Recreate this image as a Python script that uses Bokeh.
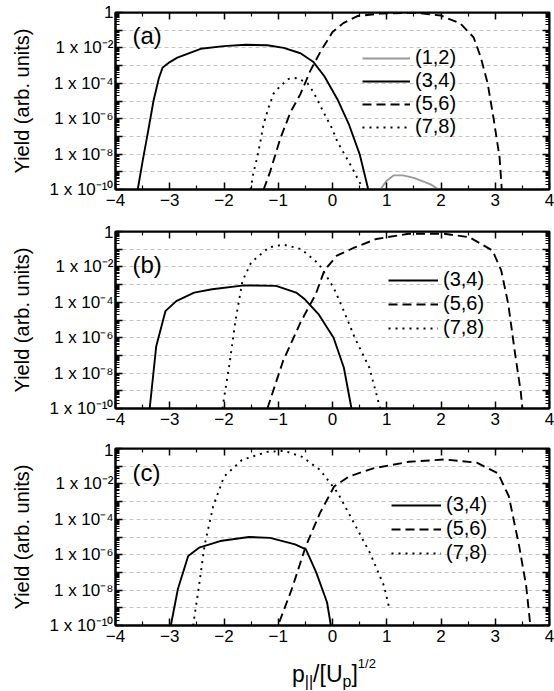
from bokeh.plotting import figure
from bokeh.models import (FixedTicker, LogAxis, LinearAxis, Legend, LegendItem, Label,
                          CustomJSTickFormatter, Div)
from bokeh.layouts import column
from bokeh.embed import file_html
from bokeh.resources import INLINE

FONT = "Liberation Sans"

# ---------------- data ----------------
# panel (a)
a12_x = [0.88, 1.0, 1.13, 1.3, 1.5, 1.8, 1.96]
a12_y = [1e-10, 3.16e-10, 6.3e-10, 6.3e-10, 4.5e-10, 2.0e-10, 1e-10]
a34_x = [-3.59, -3.5, -3.41, -3.3, -3.2, -3.13, -3.0, -2.86, -2.43, -2.0, -1.6, -1.2, -0.9,
         -0.59, -0.35, -0.15, 0.09, 0.3, 0.5, 0.66]
a34_y = [1e-10, 4.0e-9, 1.26e-7, 1e-5, 2.0e-4, 7.9e-4, 1.58e-3, 2.8e-3, 8.9e-3, 1.26e-2,
         1.51e-2, 1.41e-2, 1e-2, 5.0e-3, 1.58e-3, 2.5e-4, 1.26e-5, 5.0e-7, 1e-8, 1e-10]
a56_x = [-1.27, -1.15, -0.96, -0.77, -0.59, -0.41, -0.22, 0.0, 0.2, 0.46, 0.88, 1.5, 2.0,
         2.36, 2.6, 2.73, 2.86, 2.97, 3.08, 3.12]
a56_y = [1e-10, 1e-9, 7.9e-8, 2.5e-6, 2.5e-5, 5.0e-4, 6.3e-3, 7.9e-2, 0.251, 0.631, 0.871,
         0.98, 0.676, 0.234, 3.98e-2, 3.16e-3, 1e-4, 1e-6, 6.3e-9, 1e-10]
a78_x = [-1.51, -1.46, -1.39, -1.33, -1.27, -1.18, -1.09, -0.96, -0.81, -0.65, -0.46, -0.35,
         -0.17, 0.0, 0.09, 0.33, 0.57]
a78_y = [1e-10, 7.9e-10, 6.3e-9, 5.0e-8, 5.0e-7, 4.0e-6, 2.5e-5, 7.1e-5, 1.78e-4, 2.0e-4,
         1e-4, 3.16e-5, 2.5e-6, 2.5e-7, 5.0e-8, 2.5e-9, 1e-10]

# panel (b)
b34_x = [-3.37, -3.25, -3.08, -2.88, -2.55, -2.22, -1.63, -1.04, -0.67, -0.51, -0.25, 0.02,
         0.21, 0.35]
b34_y = [1e-10, 3.16e-7, 3.16e-5, 1.17e-4, 3.55e-4, 5.5e-4, 9.1e-4, 8.5e-4, 3.55e-4,
         1.48e-4, 2.0e-5, 1e-6, 2.0e-8, 1e-10]
b56_x = [-1.2, -0.91, -0.58, -0.31, -0.15, 0.08, 0.41, 0.81, 1.4, 2.06, 2.52, 2.95, 3.11,
         3.24, 3.37, 3.47, 3.5]
b56_y = [1e-10, 5.0e-8, 8.5e-6, 2.8e-4, 6.3e-3, 4.3e-2, 0.126, 0.38, 0.741, 0.741, 0.479,
         8.3e-2, 6.3e-3, 7.9e-5, 1e-7, 8.9e-10, 1e-10]
b78_x = [-2.03, -1.89, -1.79, -1.66, -1.5, -1.17, -0.91, -0.58, -0.25, 0.02, 0.21, 0.41,
         0.68, 0.88]
b78_y = [1e-10, 5.0e-8, 8.5e-6, 1.58e-3, 1.78e-2, 0.126, 0.182, 0.102, 1.45e-2, 6.8e-4,
         3.16e-5, 1e-6, 2.0e-8, 1e-10]

# panel (c)
c34_x = [-2.98, -2.85, -2.66, -2.46, -2.07, -1.54, -1.15, -0.69, -0.49, -0.30, -0.10, -0.03]
c34_y = [1e-10, 1.15e-8, 8.5e-7, 2.5e-6, 5.9e-6, 1e-5, 8.9e-6, 3.8e-6, 2.0e-6, 1e-7,
         2.0e-9, 1e-10]
c56_x = [-0.98, -0.75, -0.49, -0.23, 0.03, 0.3, 0.75, 1.41, 2.07, 2.66, 3.05, 3.25, 3.44,
         3.57, 3.64]
c56_y = [1.58e-10, 1.15e-8, 3.16e-6, 2.3e-4, 7.1e-3, 2.57e-2, 7.6e-2, 0.178, 0.24, 0.158,
         3.98e-2, 2.0e-3, 3.16e-6, 1.74e-8, 1.58e-10]
c78_x = [-2.57, -2.46, -2.36, -2.2, -2.0, -1.67, -1.21, -0.89, -0.56, -0.23, 0.1, 0.36,
         0.69, 0.95, 1.05]
c78_y = [1e-10, 1.74e-8, 3.16e-6, 5.4e-4, 2.57e-2, 0.224, 0.646, 0.741, 0.339, 6.2e-2,
         3.0e-3, 1e-4, 1.26e-6, 1.74e-8, 8.5e-10]

# ticks
X_TICKS = [-4, -3, -2, -1, 0, 1, 2, 3, 4]
X_MINOR = [-3.5, -2.5, -1.5, -0.5, 0.5, 1.5, 2.5, 3.5]
Y_TICKS = [1e-10, 1e-9, 1e-8, 1e-7, 1e-6, 1e-5, 1e-4, 1e-3, 1e-2, 1e-1, 1.0]
Y_LABELS = {1e-10: "1 x 10\u207b\u00b9\u2070", 1e-9: "", 1e-8: "1 x 10\u207b\u2078", 1e-7: "",
            1e-6: "1 x 10\u207b\u2076", 1e-5: "", 1e-4: "1 x 10\u207b\u2074", 1e-3: "",
            1e-2: "1 x 10\u207b\u00b2", 1e-1: "", 1.0: "1"}
Y_MINOR = [k * d for d in Y_TICKS[:-1] for k in range(2, 10)]

LINE_W = 1.9
STYLES = {
    "(1,2)": dict(line_color="#9a9a9a", line_dash="solid"),
    "(3,4)": dict(line_color="black", line_dash="solid"),
    "(5,6)": dict(line_color="black", line_dash="9 5"),
    "(7,8)": dict(line_color="black", line_dash="2 5"),
}

FRAME_W = 434
FRAME_H = 177


def style_axis(ax, show_labels):
    ax.axis_line_width = 2
    ax.axis_line_color = "black"
    ax.major_tick_in = 7
    ax.major_tick_out = 0
    ax.minor_tick_in = 4
    ax.minor_tick_out = 0
    ax.major_tick_line_width = 1.5
    ax.minor_tick_line_width = 1.2
    ax.major_tick_line_color = "black"
    ax.minor_tick_line_color = "black"
    if show_labels:
        ax.major_label_text_font = FONT
        ax.major_label_text_font_size = "17px"
        ax.major_label_text_color = "black"
    else:
        ax.major_label_standoff = 0
        ax.major_label_text_font_size = "0px"
        ax.formatter = CustomJSTickFormatter(code="return ''")


def make_panel(series, tag, tag_y, leg_x, leg_y, leg_spacing, glyph_w, border_top,
               border_bottom):
    p = figure(frame_width=FRAME_W, frame_height=FRAME_H, x_range=(-4, 4),
               y_range=(1e-10, 1), y_axis_type="log", output_backend="svg",
               toolbar_location=None, min_border_left=115, min_border_right=5,
               min_border_top=border_top, min_border_bottom=border_bottom)
    p.outline_line_color = "black"
    p.outline_line_width = 2
    p.background_fill_color = "white"

    xt = FixedTicker(ticks=X_TICKS, minor_ticks=X_MINOR)
    yt = FixedTicker(ticks=Y_TICKS, minor_ticks=Y_MINOR)

    p.xaxis.ticker = xt
    p.yaxis.ticker = yt
    p.yaxis.major_label_overrides = Y_LABELS
    style_axis(p.xaxis[0], True)
    style_axis(p.yaxis[0], True)
    p.xaxis.major_label_standoff = 4
    p.yaxis.major_label_standoff = 2
    p.yaxis.axis_label = "Yield (arb. units)"
    p.yaxis.axis_label_text_font = FONT
    p.yaxis.axis_label_text_font_size = "20px"
    p.yaxis.axis_label_text_font_style = "normal"
    p.yaxis.axis_label_text_color = "black"
    p.yaxis.axis_label_standoff = 14

    # mirror ticks on the top and right edges; fixed_location keeps them out of the borders
    top = LinearAxis(ticker=xt, fixed_location=1.0)
    style_axis(top, False)
    p.add_layout(top, "above")
    right = LogAxis(ticker=yt, fixed_location=4.0)
    style_axis(right, False)
    p.add_layout(right, "right")

    p.xgrid.visible = False
    p.ygrid.ticker = yt
    p.ygrid.grid_line_color = "#c4c4c4"
    p.ygrid.grid_line_dash = "4 3"
    p.ygrid.grid_line_width = 1

    items = []
    for name, xs, ys in series:
        r = p.line(xs, ys, line_width=LINE_W, **STYLES[name])
        items.append(LegendItem(label=name, renderers=[r]))

    leg = Legend(items=items, location=(leg_x, leg_y), border_line_color=None,
                 background_fill_alpha=0, padding=0, margin=0, spacing=leg_spacing,
                 glyph_width=glyph_w, glyph_height=20, label_height=20, label_standoff=5,
                 label_text_font=FONT, label_text_font_size="20px",
                 label_text_color="black")
    p.add_layout(leg)

    p.add_layout(Label(x=17, y=FRAME_H - tag_y, x_units="screen", y_units="screen",
                       text=tag, text_font=FONT, text_font_size="24px",
                       text_baseline="middle", text_color="black"))
    return p


pa = make_panel([("(1,2)", a12_x, a12_y), ("(3,4)", a34_x, a34_y),
                 ("(5,6)", a56_x, a56_y), ("(7,8)", a78_x, a78_y)],
                "(a)", 23, 247, 51, 0, 48, 12, 33)
pb = make_panel([("(3,4)", b34_x, b34_y), ("(5,6)", b56_x, b56_y), ("(7,8)", b78_x, b78_y)],
                "(b)", 33, 273, 69, 1, 50, 9, 32)
pc = make_panel([("(3,4)", c34_x, c34_y), ("(5,6)", c56_x, c56_y), ("(7,8)", c78_x, c78_y)],
                "(c)", 24, 276, 61, 1, 50, 8, 28)

# x-axis title p_||/[U_p]^{1/2}
sub = "font-size:16px;vertical-align:baseline;position:relative;top:5px;line-height:0"
sup = "font-size:13px;vertical-align:baseline;position:relative;top:-14px;line-height:0"
xtitle = Div(
    text=(f"<span style=\"font-family:'{FONT}';font-size:23px;color:black;white-space:nowrap\">"
          f"p<span style='{sub}'>||</span>/[U<span style='{sub}'>p</span>]"
          f"<span style='{sup}'>1/2</span></span>"),
    width=200, height=37, margin=(0, 0, 0, 292),
    styles={"line-height": "42px", "overflow": "hidden"})

layout = column(pa, pb, pc, xtitle, spacing=0)
open("out.html", "w").write(file_html(layout, INLINE))
